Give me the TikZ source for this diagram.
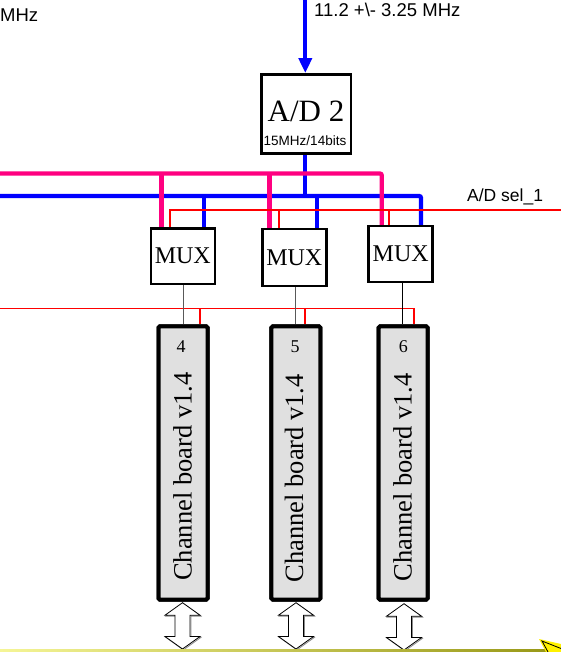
\documentclass[tikz,border=0pt]{standalone}
\usepackage{fontspec}
\setmainfont{Liberation Serif}
\setsansfont{Liberation Sans}
\usetikzlibrary{arrows.meta}
\definecolor{pinkbus}{HTML}{FF0080}
\definecolor{boardgray}{HTML}{E0E0E0}
\definecolor{olivey}{RGB}{150,150,20}
\definecolor{lighty}{RGB}{245,245,150}
\tikzset{
  sanslab/.style={font=\sffamily\fontsize{18.5}{20}\selectfont, inner sep=0pt},
  boxst/.style={draw, line width=2.5pt, fill=white, inner sep=0pt},
  muxst/.style={boxst, minimum width=64pt, font=\fontsize{24}{26}\selectfont},
  boardst/.style={draw, line width=4pt, fill=boardgray, rounded corners=1.5pt, minimum width=49pt, minimum height=273.4pt, inner sep=0pt},
  boardtxt/.style={font=\fontsize{26.5}{28}\selectfont, inner sep=0pt, rotate=90, anchor=base},
  numtxt/.style={font=\fontsize{18}{20}\selectfont, inner sep=0pt, anchor=base},
  busblue/.style={draw=blue, line width=4.3pt},
  buspink/.style={draw=pinkbus, line width=4.3pt},
  selred/.style={draw=red, line width=1.8pt},
  thinln/.style={draw=black!65, line width=1pt},
  dblarr/.pic={
    \draw[black!45, line width=0.8pt, shift={(0.9,0.9)}] (0,0) -- (17.5,12.5) -- (7.5,12.5) -- (7.5,33.8) -- (17.5,33.8) -- (0,46.3) -- (-17.5,33.8) -- (-7.5,33.8) -- (-7.5,12.5) -- (-17.5,12.5) -- cycle;
    \draw[black, line width=0.8pt, fill=white] (0,0) -- (17.5,12.5) -- (7.5,12.5) -- (7.5,33.8) -- (17.5,33.8) -- (0,46.3) -- (-17.5,33.8) -- (-7.5,33.8) -- (-7.5,12.5) -- (-17.5,12.5) -- cycle;
  }
}
\begin{document}
\begin{tikzpicture}[x=1pt, y=-1pt]
\useasboundingbox (0,0) rectangle (561,652);
\fill[white] (0,0) rectangle (561,652);

% labels at top
\node[sanslab, anchor=base west] (mhz) at (0,22) {MHz};
\node[sanslab, anchor=base west] (inlab) at (314,16.7) {11.2 +\textbackslash- 3.25 MHz};
\node[sanslab, font=\sffamily\fontsize{17.5}{19}\selectfont, anchor=base west] (sellab) at (467,201.7) {A/D sel\_1};

% A/D converter
\node[boxst, minimum width=89.5pt, minimum height=79.2pt] (ad) at (306,113.9) {};
\node[inner sep=0pt, anchor=base, font=\fontsize{31}{33}\selectfont] (adt) at (306,122) {A/D 2};
\node[inner sep=0pt, anchor=base, font=\sffamily\fontsize{13.5}{15}\selectfont] (ads) at (305,146) {15MHz/14bits};

% MUX boxes
\node[muxst, minimum height=55.5pt] (m1) at (182.8,256) {MUX};
\node[muxst, minimum height=57pt] (m2) at (294.3,257.5) {MUX};
\node[muxst, minimum height=56pt, minimum width=64pt] (m3) at (400.7,254.2) {MUX};

% coordinates
\coordinate (ain) at (305.3,-2);
\coordinate (bl) at (-5,196);
\coordinate (bj0) at (305.3,196);
\coordinate (bj1) at (204,196);
\coordinate (bj2) at (316.7,196);
\coordinate (bj3) at (421,196);
\coordinate (pl) at (-5,173.5);
\coordinate (pj1) at (161.5,173.5);
\coordinate (pj2) at (269.4,173.5);
\coordinate (pj3) at (381.8,173.5);
\coordinate (sr) at (566,210.2);
\coordinate (sj1) at (170,210.2);
\coordinate (sj2) at (279,210.2);
\coordinate (sj3) at (389,210.2);
\coordinate (rl) at (-5,308.5);
\coordinate (rj1) at (200,308.5);
\coordinate (rj2) at (305.2,308.5);
\coordinate (rj3) at (414.3,308.5);

% input arrow
\draw[blue, line width=4.3pt, -{Triangle[length=15pt,width=13pt]}] (ain) -- (ain |- ad.north);

% blue bus
\draw[busblue] (ad.south -| bj0) -- (bj0);
\draw[busblue, rounded corners=2pt] (bl) -- (bj3) -- (bj3 |- m3.north);
\draw[busblue] (bj1) -- (bj1 |- m1.north);
\draw[busblue] (bj2) -- (bj2 |- m2.north);

% pink bus
\draw[buspink, rounded corners=2pt] (pl) -- (pj3) -- (pj3 |- m3.north);
\draw[buspink] (pj1) -- (pj1 |- m1.north);
\draw[buspink] (pj2) -- (pj2 |- m2.north);

% A/D sel line
\draw[selred] (sr) -- (sj1) -- (sj1 |- m1.north);
\draw[selred] (sj2) -- (sj2 |- m2.north);
\draw[selred] (sj3) -- (sj3 |- m3.north);

% channel boards
\node[boardst] (b4) at (183,463) {};
\node[boardst] (b5) at (295.9,463) {};
\node[boardst] (b6) at (403.2,463) {};

% lower red line
\draw[selred] (rl) -- (rj3) -- (rj3 |- b6.north);
\draw[selred] (rj1) -- (rj1 |- b4.north);
\draw[selred] (rj2) -- (rj2 |- b5.north);

% MUX to boards
\draw[thinln] (183.2,0 |- m1.south) -- (183.2,0 |- b4.north);
\draw[thinln] (295.2,0 |- m2.south) -- (295.2,0 |- b5.north);
\draw[thinln, draw=black] (402.5,0 |- m3.south) -- (402.5,0 |- b6.north);

% redraw boards on top of line ends
\node[boardst] at (b4) {};
\node[boardst] at (b5) {};
\node[boardst] at (b6) {};

% board texts
\node[numtxt] (n4) at (181,352.3) {4};
\node[numtxt] (n5) at (295,352.3) {5};
\node[numtxt] (n6) at (403.3,352.3) {6};
\node[boardtxt] (t4) at (191.5,476.7) {Channel board v1.4};
\node[boardtxt] (t5) at (303.2,478.3) {Channel board v1.4};
\node[boardtxt] (t6) at (411.5,477.5) {Channel board v1.4};

% double arrows
\pic at (182.5,602.7) {dblarr};
\pic at (296,602.7) {dblarr};
\pic at (404,603.7) {dblarr};

% bottom line and pointer
\shade[left color=lighty, right color=olivey] (0,649.9) rectangle (561,651.6);
\fill[yellow] (539,639) -- (561,644) -- (561,652) -- (546,652) -- cycle;
\draw[black, line width=0.8pt] (548,652) -- (542,641) -- (561,648.5);
\end{tikzpicture}
\end{document}
